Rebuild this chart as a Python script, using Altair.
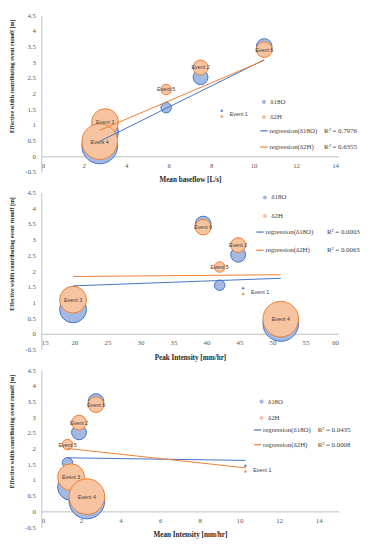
import altair as alt
import pandas as pd

# ---------------- data ----------------
events = ["Event 1", "Event 2", "Event 3", "Event 4", "Event 5", "Event 6"]
isotopes = ["δ18O", "δ2H"]
trend_names = ["regression(δ18O)", "regression(δ2H)"]
width_d18o = [1.45, 2.52, 0.78, 0.33, 1.55, 3.50]
width_d2h = [1.27, 2.83, 1.09, 0.47, 2.13, 3.40]
bubble_value = [0.1, 7.6, 25.0, 44.0, 3.8, 8.5]

mean_baseflow = [8.5, 7.5, 3.0, 2.75, 5.88, 10.5]
peak_intensity = [45.55, 44.8, 19.8, 51.25, 42.0, 39.5]
mean_intensity = [10.3, 1.9, 1.5, 2.3, 1.32, 2.76]

x_titles = ["Mean baseflow [L/s]", "Peak Intensity [mm/hr]", "Mean Intensity [mm/hr]"]
x_domains = [[0, 14], [15, 60], [0, 15]]
x_ticks = [[0, 2, 4, 6, 8, 10, 12, 14],
           [15, 20, 25, 30, 35, 40, 45, 50, 55, 60],
           [0, 2, 4, 6, 8, 10, 12, 14]]
y_ticks = [-0.5, 0, 0.5, 1, 1.5, 2, 2.5, 3, 3.5, 4, 4.5]
r2_values = [["0.7976", "0.6355"], ["0.0003", "0.0063"], ["0.0435", "0.0008"]]
y_title = "Effective width contributing event runoff [m]"

# ---------------- styling ----------------
W, H = 303, 160
BLUE_LINE, BLUE_FILL = "#4472C4", "#A3B9E2"
ORANGE_LINE, ORANGE_FILL = "#ED7D31", "#F6C4A0"
SERIF = "Liberation Serif"
NB = "\u00a0"

# legend placement per panel: (fillX, fillY, fillPad, strokeX, strokeY, strokePad, nbsp18, nbsp2)
legend_layout = [
    (223.5, 85.0, 7.5, 222.5, 113.5, 8.5, 4, 6),
    (224.5, 1.5, 10.8, 218.5, 35.7, 10.5, 8, 10),
    (221.0, 28.5, 8.8, 216.0, 56.5, 7.0, 4, 6),
]


def panel(xvals, i):
    df = pd.DataFrame({
        "event": events * 2,
        "x": xvals * 2,
        "y": width_d18o + width_d2h,
        "iso": [isotopes[0]] * 6 + [isotopes[1]] * 6,
        "bubble": bubble_value * 2,
    })
    fx, fy, fp, sx, sy, sp, n1, n2 = legend_layout[i]
    r2a, r2b = r2_values[i]
    lab_a = trend_names[0] + NB * n1 + "R² = " + r2a
    lab_b = trend_names[1] + NB * n2 + "R² = " + r2b

    base = alt.Chart(df)
    xenc = alt.X(
        "x:Q",
        scale=alt.Scale(domain=x_domains[i], nice=False, zero=False),
        axis=alt.Axis(values=x_ticks[i], tickCount=50, title=x_titles[i], offset=-H * 0.1,
                      labelExpr="toString(datum.value)",
                      labelPadding=5, titlePadding=8, labelOverlap=False),
    )
    yenc = alt.Y(
        "y:Q",
        scale=alt.Scale(domain=[-0.5, 4.5], nice=False, zero=False),
        axis=alt.Axis(values=y_ticks, tickCount=50, title=y_title,
                      labelExpr="toString(datum.value)",
                      labelPadding=6, titleX=-27, titleY=62, titleFontSize=6,
                      labelOverlap=False),
    )
    fill = alt.Fill(
        "iso:N",
        scale=alt.Scale(domain=isotopes, range=[BLUE_FILL, ORANGE_FILL]),
        legend=alt.Legend(title=None, orient="none", legendX=fx, legendY=fy,
                          symbolType="circle", symbolSize=18, symbolStrokeWidth=0,
                          labelOffset=3, rowPadding=fp, padding=0),
    )
    size = alt.Size("bubble:Q", scale=alt.Scale(domain=[0, 44], range=[0, 1320]), legend=None)

    pts_b = base.transform_filter(alt.datum.iso == isotopes[0]).mark_circle(
        stroke=BLUE_LINE, strokeWidth=1, opacity=1
    ).encode(x=xenc, y=yenc, fill=fill, size=size)
    pts_o = base.transform_filter(alt.datum.iso == isotopes[1]).mark_circle(
        stroke=ORANGE_LINE, strokeWidth=1, opacity=1
    ).encode(x=xenc, y=yenc, fill=fill, size=size)

    reg = base.transform_regression("x", "y", groupby=["iso"]).transform_calculate(
        trend="'regression(' + datum.iso + ')'"
    ).mark_line(strokeWidth=1).encode(
        x="x:Q",
        y="y:Q",
        stroke=alt.Stroke(
            "trend:N",
            scale=alt.Scale(domain=trend_names, range=[BLUE_LINE, ORANGE_LINE]),
            legend=alt.Legend(title=None, orient="none", legendX=sx, legendY=sy,
                              symbolType="stroke", symbolSize=56, symbolStrokeWidth=1.2,
                              labelOffset=1, rowPadding=sp, padding=0,
                              labelExpr=f"datum.label == '{trend_names[0]}' ? '{lab_a}' : '{lab_b}'"),
        ),
    )

    labels = base.transform_filter(
        (alt.datum.iso == isotopes[1]) & (alt.datum.event != "Event 1")
    ).mark_text(font="Liberation Sans", fontSize=5.5, color="#404040").encode(
        x="x:Q", y="y:Q", text="event:N")
    label1 = base.transform_filter(
        (alt.datum.iso == isotopes[1]) & (alt.datum.event == "Event 1")
    ).mark_text(font="Liberation Sans", fontSize=5.5, color="#404040", align="left", dx=8, dy=-2).encode(
        x="x:Q", y="y:Q", text="event:N")

    return alt.layer(pts_b, pts_o, reg, labels, label1).properties(width=W, height=H)


charts = [panel(mean_baseflow, 0), panel(peak_intensity, 1), panel(mean_intensity, 2)]

chart = alt.vconcat(*charts, spacing=21, bounds="flush").resolve_scale(
    x="independent", y="independent", fill="independent", stroke="independent", size="independent"
).resolve_legend(fill="independent", stroke="independent").properties(
    padding={"left": 0, "top": -2, "right": 5, "bottom": 0}
).configure_view(stroke=None).configure_axis(
    grid=False, ticks=False, domainColor="#BFBFBF", domainWidth=1, labelOverlap=False,
    labelFont=SERIF, labelFontSize=7, labelColor="#595959",
    titleFont=SERIF, titleFontSize=7.3, titleFontWeight="bold", titleColor="#262626",
).configure_legend(
    labelFont=SERIF, labelFontSize=7, labelColor="#404040", labelLimit=300,
)

chart.save("out.html", embed_options={"renderer": "svg", "actions": False})
